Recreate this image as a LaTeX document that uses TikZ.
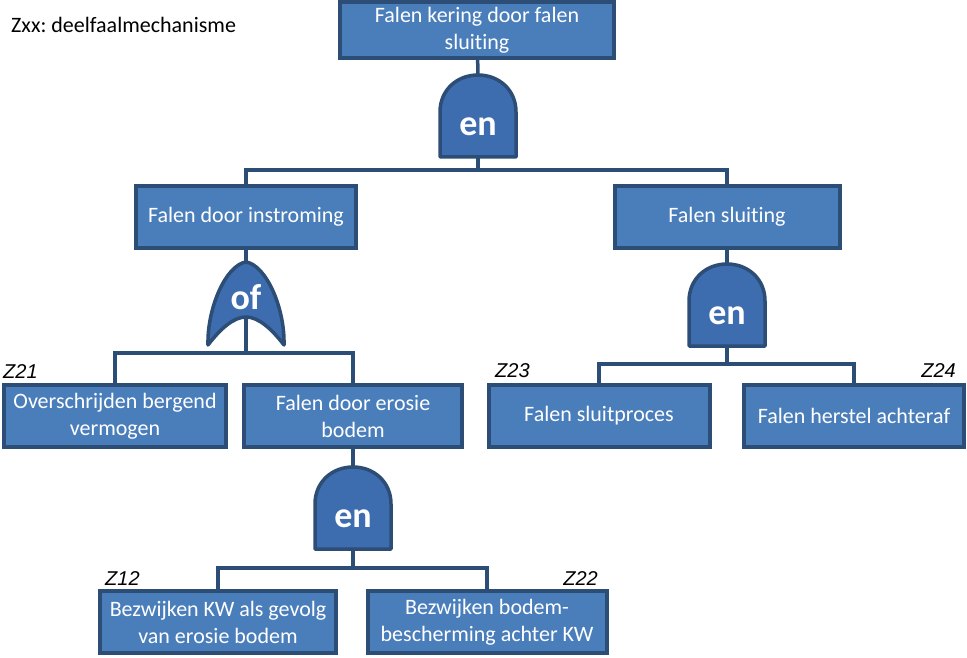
\documentclass[tikz,border=0pt]{standalone}
\usepackage{fontspec}
\setmainfont{Carlito}[Ligatures={NoCommon,NoRequired}]
\newfontfamily\zfont{Liberation Sans}
\usetikzlibrary{positioning}
\frenchspacing

\definecolor{faalblauw}{HTML}{4A7EBB}
\definecolor{faalrand}{HTML}{2C4D75}
\definecolor{poortblauw}{HTML}{3E6DAF}

\tikzset{
  faalbox/.style={draw=faalrand, line width=4pt, fill=faalblauw, text=white, align=center,
    inner sep=0pt, minimum height=62pt, font=\fontsize{22}{27}\selectfont},
  verbinding/.style={draw=faalrand, line width=3.5pt},
  poortlijn/.style={draw=faalrand, line width=3.5pt, fill=poortblauw, line join=round},
  poorttekst/.style={text=white, inner sep=0pt, font=\fontsize{36}{40}\selectfont\bfseries},
  zcode/.style={inner sep=0pt, font=\fontsize{20}{22}\selectfont\zfont\itshape},
  engate/.pic={
    \draw[poortlijn] (-38,41) -- (-38,-4) .. controls (-38,-26) and (-21,-41) .. (0,-41)
      .. controls (21,-41) and (38,-26) .. (38,-4) -- (38,41) -- cycle;
    \node[poorttekst] (-txt) at (0,11) {en};
    \coordinate (-in) at (0,-41);
    \coordinate (-out) at (0,41);
  },
  ofgate/.pic={
    \draw[poortlijn] (-38,42) .. controls (-39,5) and (-20,-38) .. (0,-41)
      .. controls (20,-38) and (39,5) .. (38,42)
      .. controls (25,25) and (12,14) .. (0,14)
      .. controls (-12,14) and (-25,25) .. (-38,42) -- cycle;
    \node[poorttekst] (-txt) at (0,-6) {of};
    \coordinate (-in) at (0,-41);
    \coordinate (-out) at (0,14);
  }
}

\begin{document}
\begin{tikzpicture}[x=1pt, y=-1pt]
\useasboundingbox (0,0) rectangle (967,658);

\node[anchor=base west, inner sep=0pt, font=\fontsize{22}{27}\selectfont] (kop) at (11,33) {Zxx: deelfaalmechanisme};

% gebeurtenissen
\node[faalbox, minimum width=274pt, minimum height=56pt] (kering) at (477,30) {Falen kering door falen\\sluiting};
\node[faalbox, minimum width=220pt] (instroming) at (246,217) {Falen door instroming};
\node[faalbox, minimum width=225pt] (sluiting) at (727,217) {Falen sluiting};
\node[faalbox, minimum width=222pt] (bergend) at (115,416) {Overschrijden bergend\\vermogen};
\node[faalbox, minimum width=218pt] (erosie) at (353,416) {Falen door erosie\\bodem};
\node[faalbox, minimum width=221pt] (sluitproces) at (599,416) {Falen sluitproces};
\node[faalbox, minimum width=220pt] (herstel) at (854,416) {Falen herstel achteraf};
\node[faalbox, minimum width=236pt] (bezwijkenkw) at (218,622) {Bezwijken KW als gevolg\\van erosie bodem};
\node[faalbox, minimum width=239pt] (bescherming) at (487,622) {Bezwijken bodem-\\bescherming achter KW};

% poorten
\pic (g0) at (478,116) {engate};
\pic (g1) at (246,303) {ofgate};
\pic (g2) at (727,305) {engate};
\pic (g3) at (353,508) {engate};

% codes
\node[zcode, anchor=base west] (z21) at (3,378) {Z21};
\node[zcode, anchor=base west] (z23) at (495,377) {Z23};
\node[zcode, anchor=base east] (z24) at (956,377) {Z24};
\node[zcode, anchor=base west] (z12) at (105,585) {Z12};
\node[zcode, anchor=base east] (z22) at (598,585) {Z22};

% verbindingen
\draw[verbinding] (kering) -- (g0-in);
\draw[verbinding] (g0-out) -- ++(0,13) -| (instroming.north);
\draw[verbinding] (g0-out) -- ++(0,13) -| (sluiting.north);
\draw[verbinding] (instroming) -- (g1-in);
\draw[verbinding] (g1-out) -- ++(0,36) -| (bergend.north);
\draw[verbinding] (g1-out) -- ++(0,36) -| (erosie.north);
\draw[verbinding] (sluiting) -- (g2-in);
\draw[verbinding] (g2-out) -- ++(0,18) -| (sluitproces.north);
\draw[verbinding] (g2-out) -- ++(0,18) -| (herstel.north);
\draw[verbinding] (erosie) -- (g3-in);
\draw[verbinding] (g3-out) -- ++(0,19) -| (bezwijkenkw.north);
\draw[verbinding] (g3-out) -- ++(0,19) -| (bescherming.north);
\end{tikzpicture}
\end{document}
